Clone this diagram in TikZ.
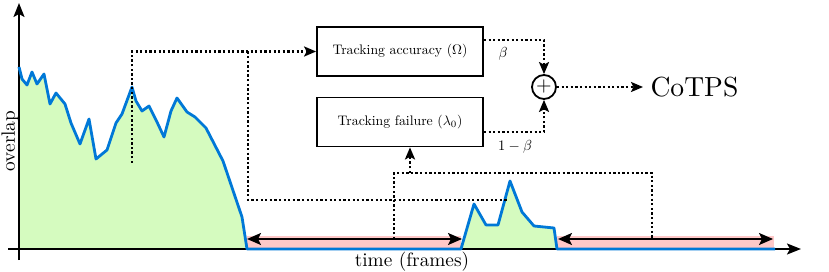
\documentclass[tikz,border=0pt]{standalone}
\usetikzlibrary{arrows.meta,calc}
\definecolor{areagreen}{RGB}{213,251,191}
\definecolor{gappink}{RGB}{255,200,200}
\definecolor{curveblue}{RGB}{0,120,215}
\begin{document}
\begin{tikzpicture}[x=1pt,y=-1pt,
  axisline/.style={line width=2pt,-{Stealth[length=14pt,width=11pt,inset=3pt]}},
  curveline/.style={curveblue,line width=2.8pt,line join=round},
  dotline/.style={line width=2.2pt,dash pattern=on 2.3pt off 2.3pt},
  dottip/.style={-{Stealth[length=12pt,width=10pt,inset=2.5pt]}},
  dbl/.style={line width=2pt,{Stealth[length=14pt,width=12pt,inset=3pt]}-{Stealth[length=14pt,width=12pt,inset=3pt]}},
  box/.style={draw,line width=1.8pt,minimum width=166pt,minimum height=49pt,inner sep=0pt},
  boxtext/.style={inner sep=0pt,font=\fontsize{10}{12}\selectfont,scale=1.38,transform shape},
  lbl/.style={inner sep=0pt,font=\fontsize{10}{12}\selectfont,scale=1.93,transform shape},
  small/.style={inner sep=0pt,font=\fontsize{10}{12}\selectfont,scale=1.45,transform shape}]
\useasboundingbox (0,0) rectangle (829,272);
% fills
\fill[areagreen] (19,249) -- (19,67) -- (22,79) -- (27,85) -- (32,72) -- (37,84) -- (44,74) -- (50,104) -- (56,93) -- (65,104) -- (71,123) -- (80,144) -- (89,119) -- (96,159) -- (107,150) -- (116,123) -- (122,114) -- (132,87) -- (136,101) -- (142,111) -- (149,106) -- (157,122) -- (164,137) -- (171,111) -- (177,98) -- (187,112) -- (195,117) -- (206,128) -- (223,161) -- (242,217) -- (247,249) -- cycle;
\fill[areagreen] (461,249) -- (474,204) -- (486,225) -- (498,225) -- (510,181) -- (522,212) -- (534,226) -- (554,228) -- (557,249) -- cycle;
\fill[gappink] (247,236) rectangle (461,249);
\fill[gappink] (557,236) rectangle (774,249);
% axes
\coordinate (yb) at (19,260); \coordinate (yt) at (19,3);
\coordinate (xl) at (8,249); \coordinate (xr) at (801,249);
\draw[axisline] (yb) -- (yt);
\draw[axisline] (xl) -- (xr);
% curve
\draw[curveline] (19,67) -- (22,79) -- (27,85) -- (32,72) -- (37,84) -- (44,74) -- (50,104) -- (56,93) -- (65,104) -- (71,123) -- (80,144) -- (89,119) -- (96,159) -- (107,150) -- (116,123) -- (122,114) -- (132,87) -- (136,101) -- (142,111) -- (149,106) -- (157,122) -- (164,137) -- (171,111) -- (177,98) -- (187,112) -- (195,117) -- (206,128) -- (223,161) -- (242,217) -- (247,249) -- (461,249) -- (474,204) -- (486,225) -- (498,225) -- (510,181) -- (522,212) -- (534,226) -- (554,228) -- (557,249) -- (775,249);
% gap arrows
\coordinate (g1l) at (247,239); \coordinate (g1r) at (462,239);
\coordinate (g2l) at (558,239); \coordinate (g2r) at (773,239);
\draw[dbl] (g1l) -- (g1r);
\draw[dbl] (g2l) -- (g2r);
% labels
\node[lbl,rotate=90] (ylab) at (10,141) {overlap};
\node[lbl] (xlab) at (412,262) {time (frames)};
% boxes
\node[box] (acc) at (400,51.5) {};
\node[boxtext] (acct) at (acc) {Tracking accuracy ($\Omega$)};
\node[box] (fail) at (400,122) {};
\node[boxtext] (failt) at (fail) {Tracking failure ($\lambda_0$)};
\node[draw,circle,line width=1.8pt,minimum size=24pt,inner sep=0pt] (sum) at (544,87) {};
\node[inner sep=0pt,font=\fontsize{10}{12}\selectfont,scale=2,transform shape] (plus) at (sum) {$+$};
\node[inner sep=0pt,anchor=west,font=\fontsize{10}{12}\selectfont,scale=2.76,transform shape] (cotps) at (650,87) {CoTPS};
\node[small] (beta) at (503,54) {$\beta$};
\node[small] (omb) at (515,147) {$1-\beta$};
% dotted connectors
\coordinate (c1) at (132,163);
\coordinate (j1) at (248,51.5);
\coordinate (e2) at (508,200);
\draw[dotline,dottip] (c1) |- (acc.west);
\draw[dotline] (j1) |- (e2);
\coordinate (b1) at (394,239); \coordinate (t1) at (394,173);
\coordinate (t2) at (652,173); \coordinate (b2) at (652,239);
\coordinate (t3) at (410,173);
\draw[dotline] (b1) -- (t1) -- (t2) -- (b2);
\draw[dotline,dottip] (t3) -- (t3 |- fail.south);
\draw[dotline,dottip] ([yshift=11.5pt]acc.east) -| (sum.north);
\draw[dotline,dottip] ([yshift=-10pt]fail.east) -| (sum.south);
\draw[dotline,dottip] (sum.east) -- ([xshift=-7pt]cotps.west);
\end{tikzpicture}
\end{document}
